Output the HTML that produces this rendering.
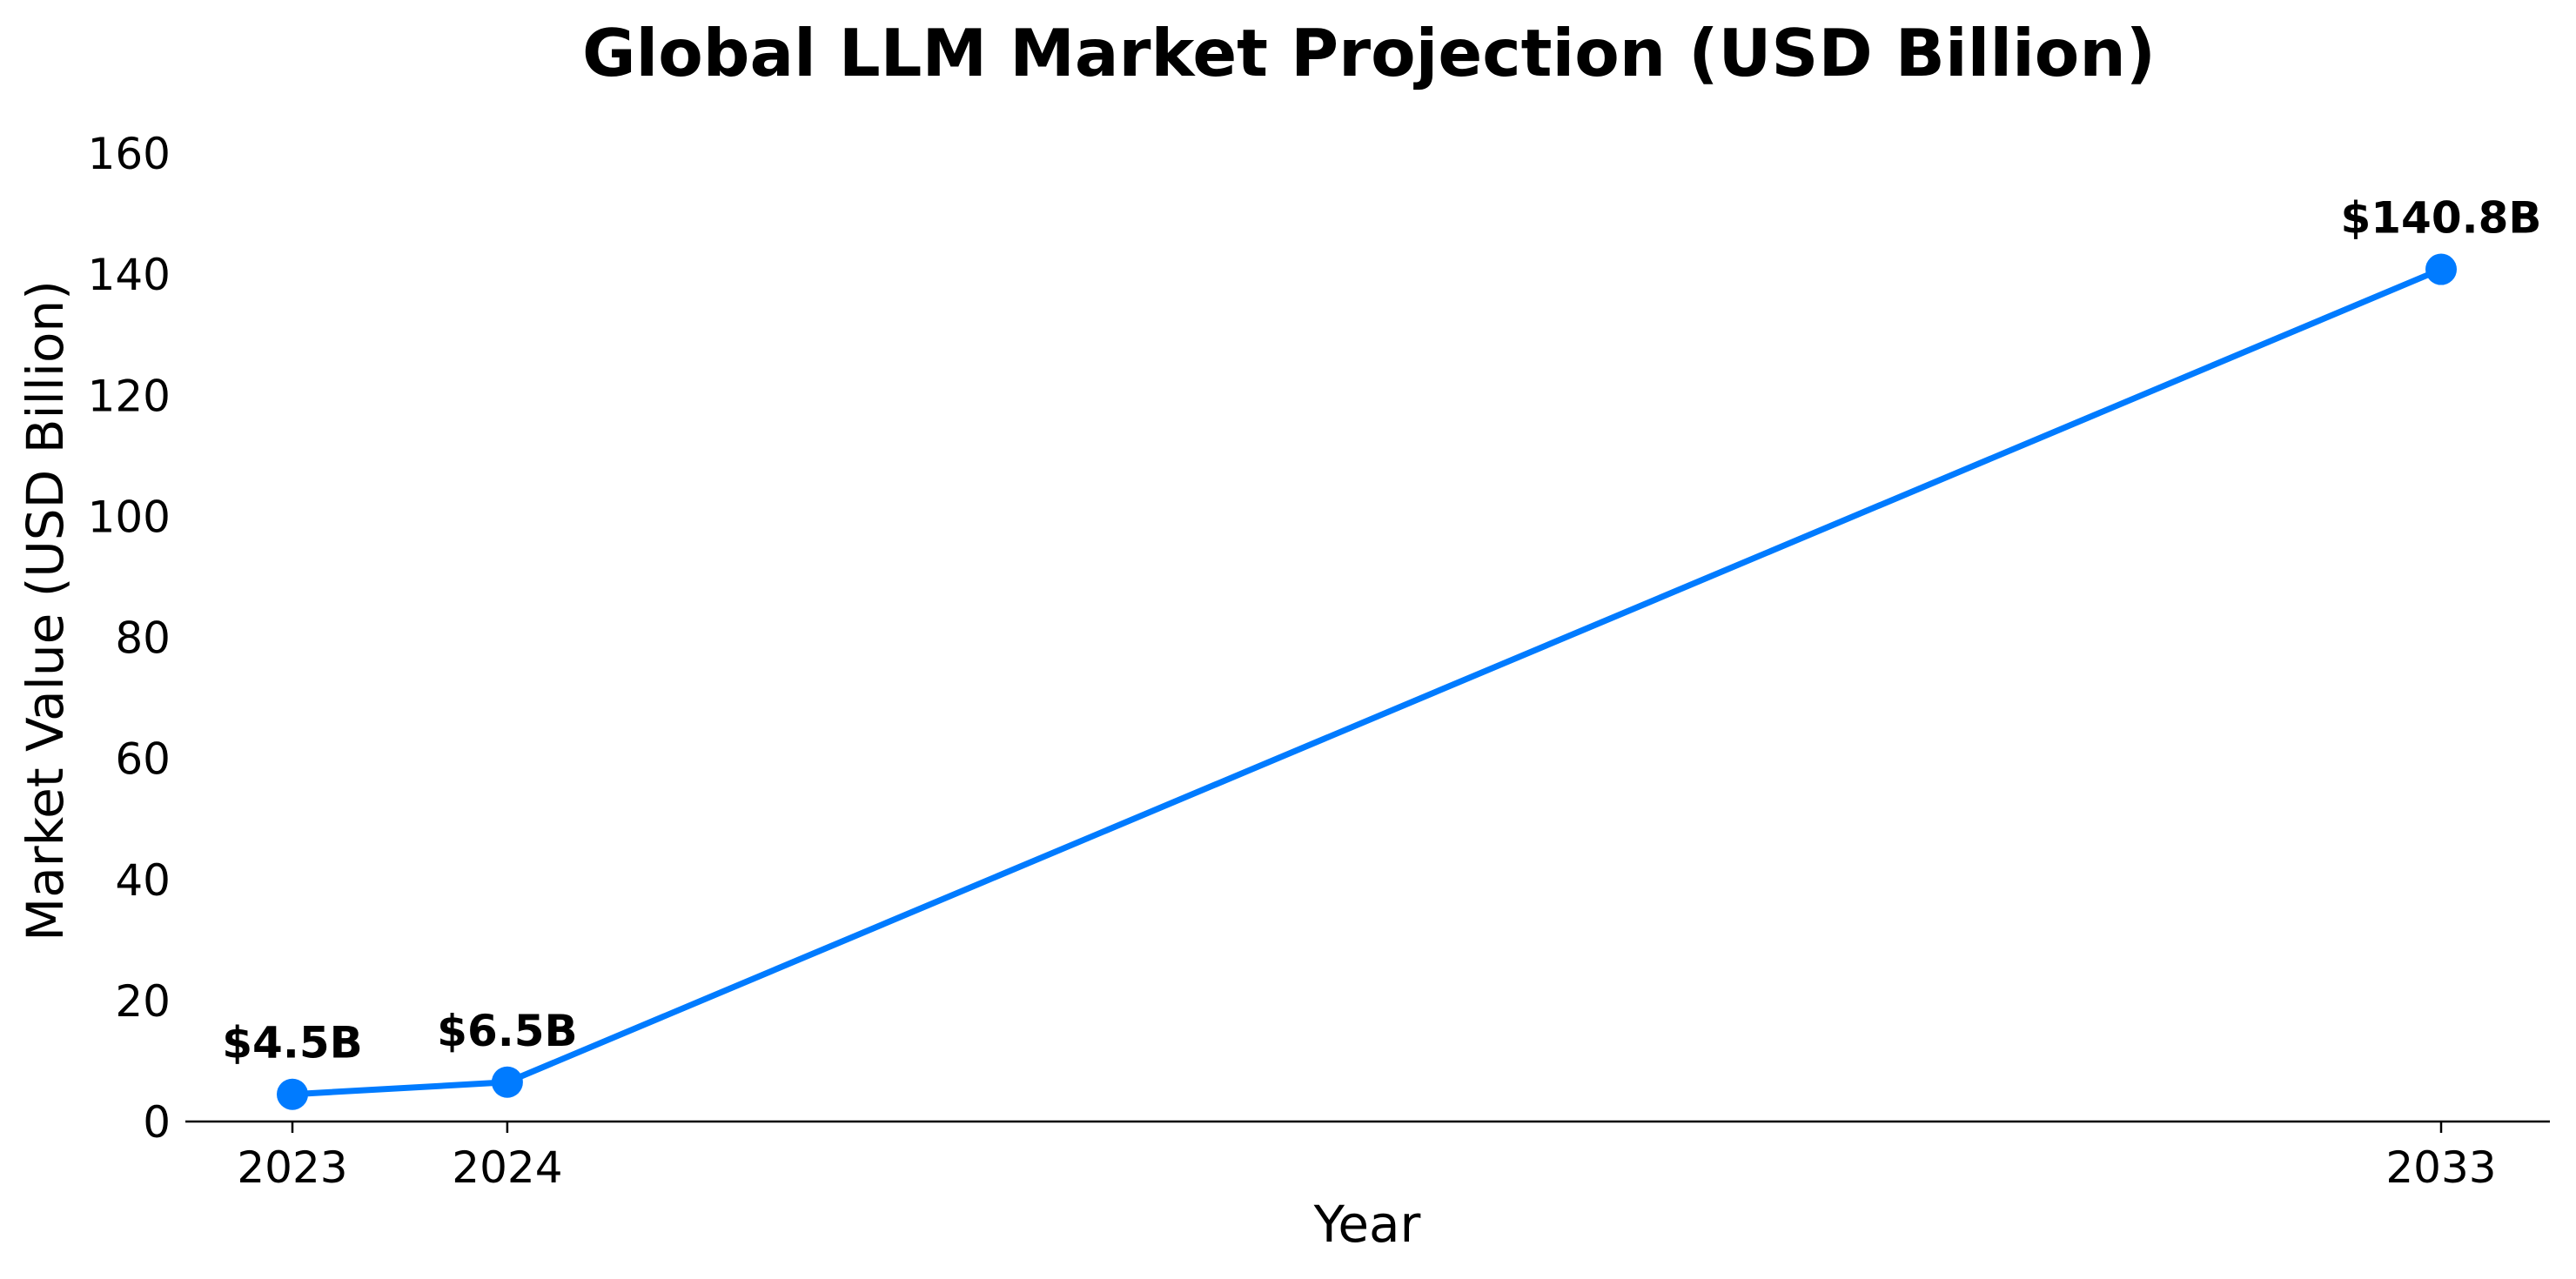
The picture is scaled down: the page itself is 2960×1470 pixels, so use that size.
<!DOCTYPE html>
<html><head><meta charset="utf-8"><style>
html,body{margin:0;padding:0;background:#fff;}
svg{display:block;font-family:"DejaVu Sans","Liberation Sans",sans-serif;}
</style></head><body>
<svg id="chart" width="2960" height="1470" viewBox="0 0 2960 1470">
<rect width="2960" height="1470" fill="#fff"/>
<text x="1573" y="87" text-anchor="middle" font-size="75" font-weight="bold">Global LLM Market Projection (USD Billion)</text>
<g id="yticks"></g>
<g id="xticks"></g>
<line x1="213" y1="1289" x2="2930" y2="1289" stroke="#000" stroke-width="2.5"/>
<text x="1571" y="1427" text-anchor="middle" font-size="58">Year</text>
<text transform="translate(72,702) rotate(-90)" text-anchor="middle" font-size="58">Market Value (USD Billion)</text>
<g id="series"></g>
</svg>
<script>
const years = [2023, 2024, 2033];
const values = [4.5, 6.5, 140.8];
const valueLabels = ["$4.5B", "$6.5B", "$140.8B"];
const yTicks = [0, 20, 40, 60, 80, 100, 120, 140, 160];

const NS = "http://www.w3.org/2000/svg";
function xScale(v){ return 336 + (v - 2023) * (2805 - 336) / 10; }
function yScale(v){ return 1289 - v * (1289 - 176) / 160; }
function mk(tag, attrs, parent){
  const el = document.createElementNS(NS, tag);
  for (const k in attrs) el.setAttribute(k, attrs[k]);
  parent.appendChild(el);
  return el;
}
const yg = document.getElementById('yticks');
yTicks.forEach(t => {
  const tx = mk('text', {x:196, y:yScale(t)+18, 'text-anchor':'end', 'font-size':50}, yg);
  tx.textContent = t;
  
  
});
const xg = document.getElementById('xticks');
years.forEach(y => {
  const ln = mk('line', {x1:xScale(y), x2:xScale(y), y1:1289, y2:1302, stroke:'#000', 'stroke-width':2.5}, xg);
  
  
  const tx = mk('text', {x:xScale(y), y:1359, 'text-anchor':'middle', 'font-size':50}, xg);
  tx.textContent = y;
  
  
});
const sg = document.getElementById('series');
const pts = years.map((y,i) => xScale(y) + ',' + yScale(values[i])).join(' ');
const pl = mk('polyline', {points:pts, fill:'none', stroke:'#007BFF', 'stroke-width':7, 'stroke-linejoin':'round'}, sg);


years.forEach((y,i) => {
  const c = mk('circle', {cx:xScale(y), cy:yScale(values[i]), r:18, fill:'#007BFF'}, sg);
  
  
  const tx = mk('text', {x:xScale(y), y:yScale(values[i])-42, 'text-anchor':'middle', 'font-size':50, 'font-weight':'bold'}, sg);
  tx.textContent = valueLabels[i];
  
  
});
</script>
</body></html>
